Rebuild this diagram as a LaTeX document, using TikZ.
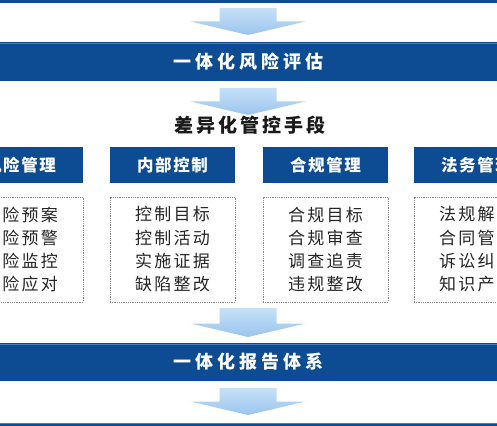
\documentclass[tikz,border=0pt]{standalone}
\usepackage{fontspec}
\setmainfont{Noto Sans CJK SC}
\usetikzlibrary{calc}
\definecolor{barblue}{HTML}{0D4C93}
\definecolor{barhi}{HTML}{4A7DBA}
\definecolor{arrtop}{HTML}{C6E0F8}
\definecolor{arrbot}{HTML}{9AC5EE}
\definecolor{dotgray}{HTML}{8A8A8A}
\definecolor{titleblack}{HTML}{1A1A1A}
% letter-spaced text
\newcommand\spc[2]{\def\lspc{#1}\spcfirst#2\relax}
\def\spcfirst#1{#1\spcrest}
\def\spcrest#1{\ifx#1\relax\else\kern\lspc#1\expandafter\spcrest\fi}
\newcommand\bodylines[4]{\spc{2.3pt}{#1}\\\spc{2.3pt}{#2}\\\spc{2.3pt}{#3}\\\spc{2.3pt}{#4}}
% big down arrow between two names: #1 from, #2 to, #3 gap below from, #4 gap above to
\newcommand\flowarrow[4]{%
  \shade[arrowfill] let \p1=($(#1)+(0,#3)$), \p2=($(#2)+(0,-#4)$) in
    (\x2-28.5pt,\y1) -- (\x2+28.5pt,\y1) -- (\x2+28.5pt,\y2+13.5pt) --
    (\x2+57.5pt,\y2+13.5pt) -- (\x2,\y2) -- (\x2-57.5pt,\y2+13.5pt) --
    (\x2-28.5pt,\y2+13.5pt) -- cycle;}
\begin{document}
\begin{tikzpicture}[x=1pt,y=-1pt,
  bar/.style={fill=barblue, draw=none, minimum width=540pt, inner sep=0pt,
    text=white, font=\fontsize{18}{20}\selectfont\bfseries},
  headbox/.style={fill=barblue, draw=none, minimum width=125pt, minimum height=36pt,
    inner sep=0pt, text=white, font=\fontsize{16.5}{18}\selectfont\bfseries},
  bodybox/.style={draw=dotgray, densely dotted, line width=0.8pt, minimum width=125pt,
    minimum height=105pt, inner sep=0pt, align=center, text=black!85,
    font=\fontsize{17}{23.3}\selectfont},
  arrowfill/.style={top color=arrtop, bottom color=arrbot, draw=none},
  hiline/.style={draw=barhi, line width=0.7pt}
]
\useasboundingbox (0,0) rectangle (497,425);
\clip (0,0) rectangle (497,425);
\fill[white] (0,0) rectangle (497,425);

% bars
\node[bar, minimum height=20pt] (topbar) at (248.5,-7) {};
\node[bar, minimum height=39pt] (evalbar) at (248.5,61.5) {\spc{4pt}{一体化风险评估}};
\node[bar, minimum height=38pt] (reportbar) at (248.5,362) {\spc{4pt}{一体化报告体系}};
\node[bar, minimum height=20pt] (bottombar) at (248.5,433) {};
\draw[hiline] ($(evalbar.north west)+(0,2)$) -- ($(evalbar.north east)+(0,2)$);
\draw[hiline] ($(reportbar.north west)+(0,2)$) -- ($(reportbar.north east)+(0,2)$);
\draw[hiline] ($(bottombar.north west)+(0,1)$) -- ($(bottombar.north east)+(0,1)$);

% heading
\node[inner sep=0pt, text height=14pt, text depth=5pt, text=titleblack,
  font=\fontsize{19}{21}\selectfont\bfseries] (means) at (250,128) {\spc{3pt}{差异化管控手段}};

% column headers
\node[headbox] (riskhead) at (20.5,165) {\spc{1.6pt}{风险管理}};
\node[headbox] (ctrlhead) at (172.5,165) {\spc{1.6pt}{内部控制}};
\node[headbox] (comphead) at (325.5,165) {\spc{1.6pt}{合规管理}};
\node[headbox] (lawhead) at (476.5,165) {\spc{1.6pt}{法务管理}};

% column bodies
\node[bodybox] (riskbody) at (20.5,249.5) {\bodylines{风险预案}{风险预警}{风险监控}{风险应对}};
\node[bodybox] (ctrlbody) at (172.5,249.5) {\bodylines{控制目标}{控制活动}{实施证据}{缺陷整改}};
\node[bodybox] (compbody) at (325.5,249.5) {\bodylines{合规目标}{合规审查}{调查追责}{违规整改}};
\node[bodybox] (lawbody) at (476.5,249.5) {\bodylines{法规解读}{合同管理}{诉讼纠纷}{知识产权}};
\coordinate (rowbottom) at (248,302);

% arrows
\coordinate (a1) at (248,3);
\coordinate (a1t) at (248,42);
\flowarrow{a1}{a1t}{5}{7}
\coordinate (a2) at (248,81);
\coordinate (a2t) at (248,122);
\flowarrow{a2}{a2t}{7}{7}
\coordinate (a3t) at (248,343);
\flowarrow{rowbottom}{a3t}{6}{6}
\coordinate (a4) at (248,381);
\coordinate (a4t) at (248,423);
\flowarrow{a4}{a4t}{7}{8}
\end{tikzpicture}
\end{document}
